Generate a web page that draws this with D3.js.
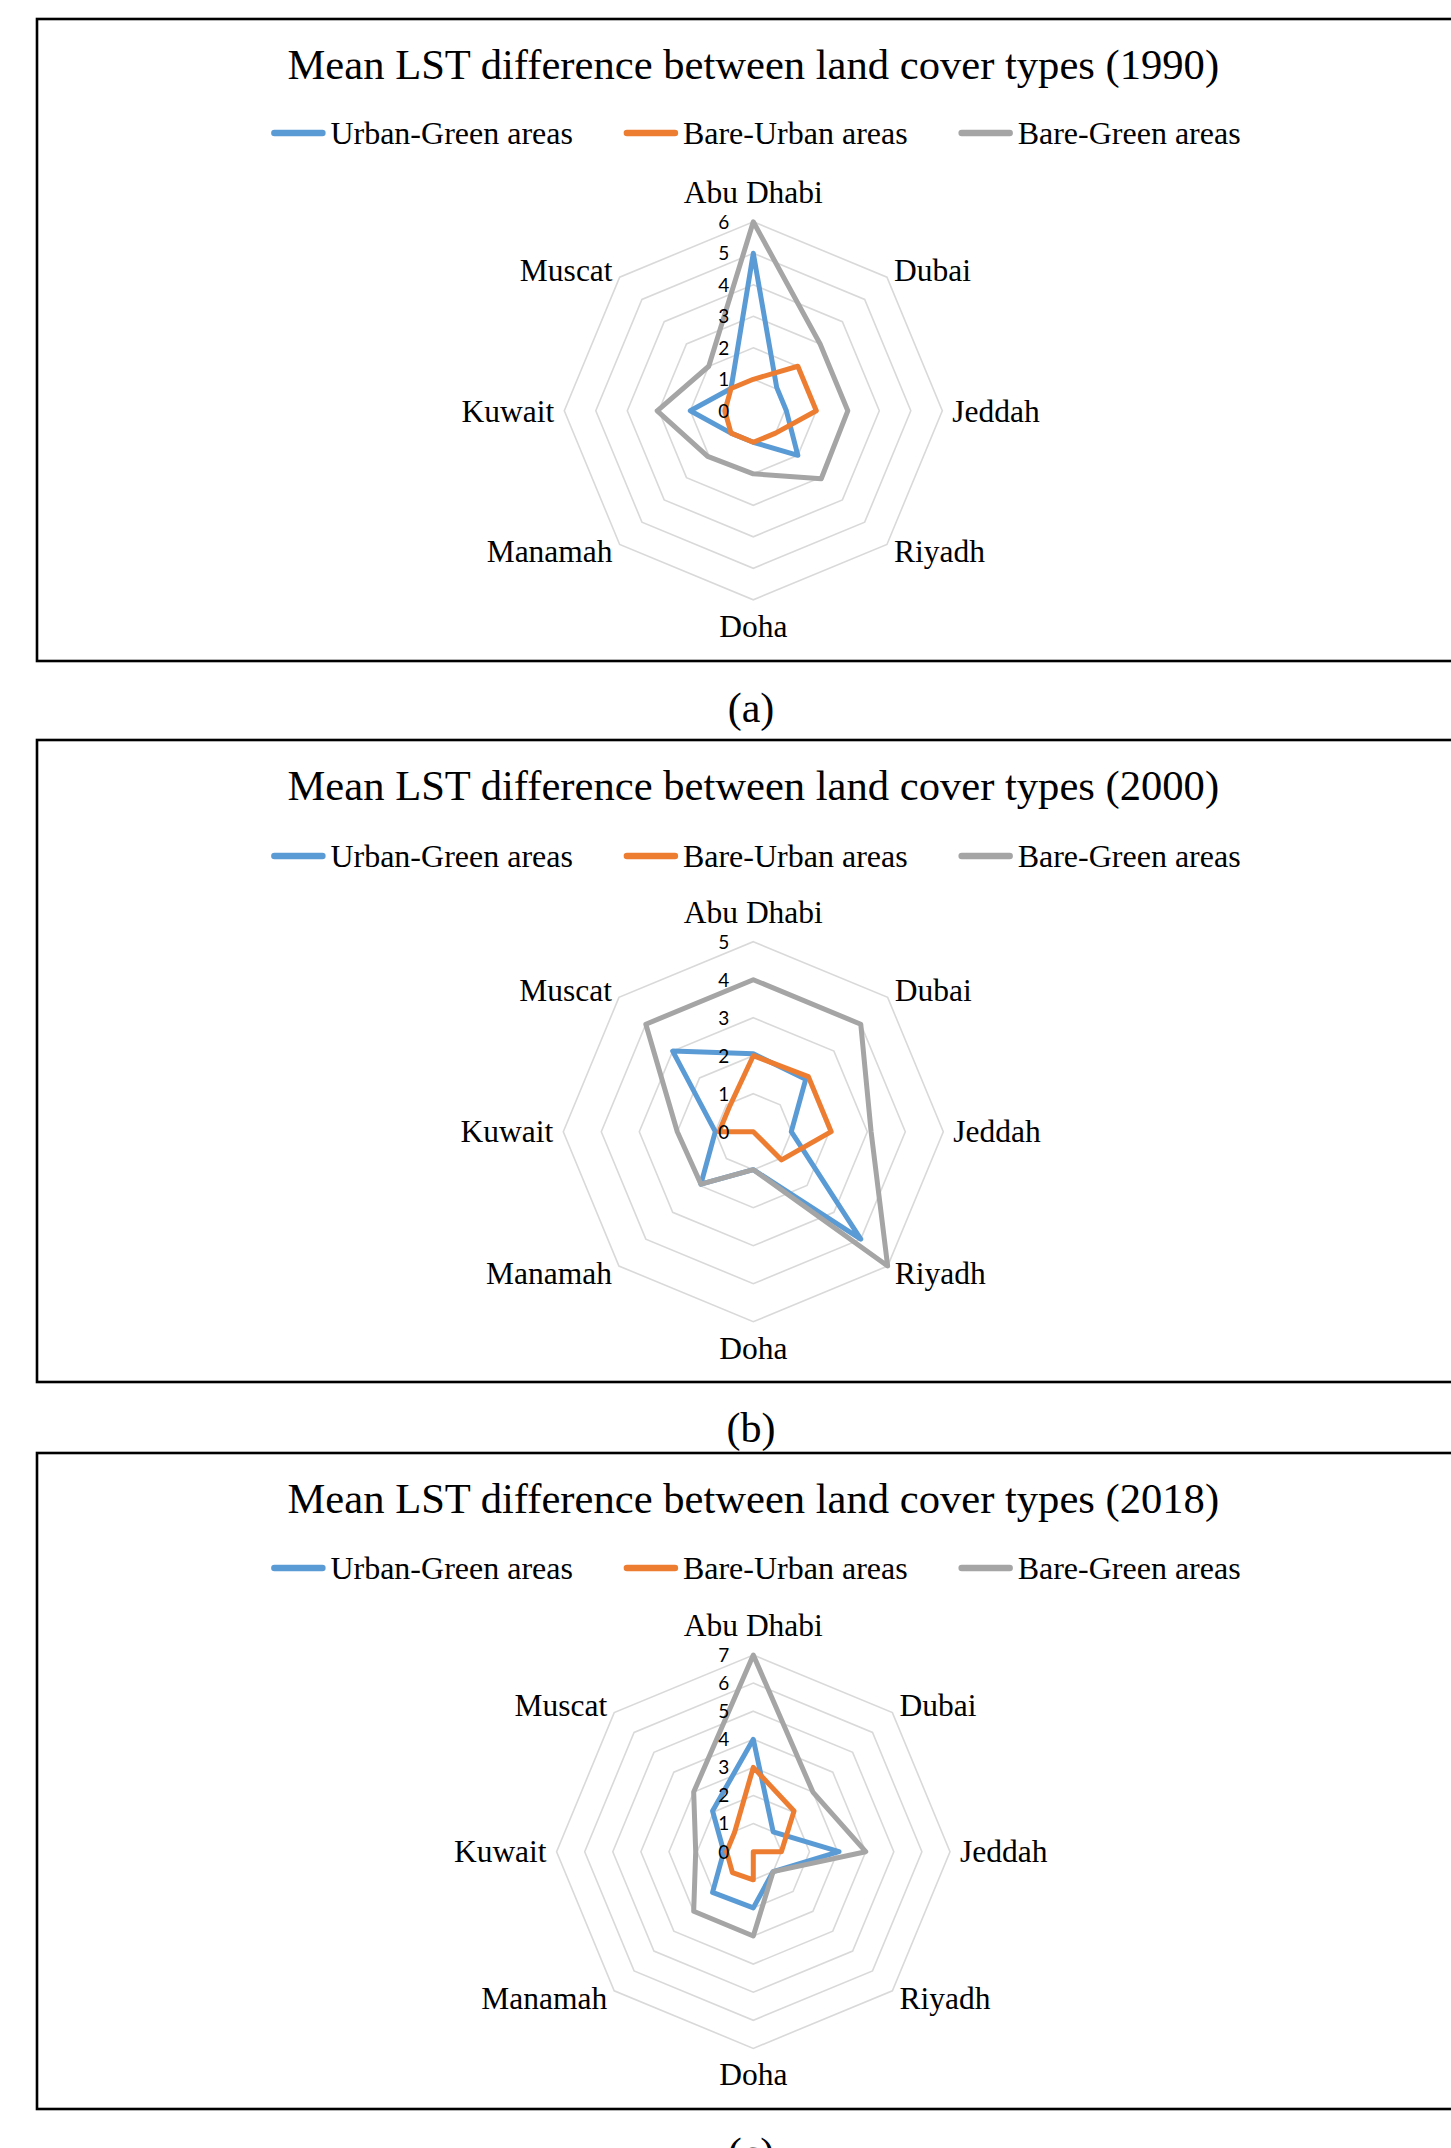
<!DOCTYPE html>
<html>
<head>
<meta charset="utf-8">
<script src="https://cdn.jsdelivr.net/npm/d3@7"></script>
<style>
  body { margin: 0; background: #ffffff; }
  svg { display: block; }
</style>
</head>
<body>
<svg id="fig" width="1451" height="2148"></svg>
<script>
// ---- data ----
const cities = ["Abu Dhabi", "Dubai", "Jeddah", "Riyadh", "Doha", "Manamah", "Kuwait", "Muscat"];
const seriesNames = ["Urban-Green areas", "Bare-Urban areas", "Bare-Green areas"];
const seriesColors = ["#5B9BD5", "#ED7D31", "#A5A5A5"];
const years = ["1990", "2000", "2018"];
const panelTags = ["(a)", "(b)", "(c)"];

// mean LST difference (°C) per city
const urbanGreen1990 = [5.0, 1.05, 1.05, 2.0, 1.0, 1.0, 2.0, 1.0];
const bareUrban1990  = [1.0, 2.0, 2.0, 1.0, 1.0, 1.0, 0.9, 1.0];
const bareGreen1990  = [6.0, 3.0, 3.0, 3.05, 2.0, 2.05, 3.05, 2.0];

const urbanGreen2000 = [2.05, 1.95, 1.0, 4.0, 1.0, 1.95, 1.0, 3.0];
const bareUrban2000  = [2.0, 2.05, 2.05, 1.05, 0, 0, 0.9, 0.9];
const bareGreen2000  = [4.0, 4.0, 3.1, 5.0, 1.0, 1.95, 2.0, 4.0];

const urbanGreen2018 = [4.0, 1.0, 3.05, 1.0, 2.0, 2.05, 1.05, 2.05];
const bareUrban2018  = [3.0, 2.05, 1.0, 0, 1.0, 1.05, 0.95, 0.95];
const bareGreen2018  = [7.0, 3.0, 4.0, 1.0, 3.0, 3.0, 2.05, 3.0];

const axisMax = [6, 5, 7];
const ticks1990 = [0, 1, 2, 3, 4, 5, 6];
const ticks2000 = [0, 1, 2, 3, 4, 5];
const ticks2018 = [0, 1, 2, 3, 4, 5, 6, 7];

const seriesByYear = [
  [urbanGreen1990, bareUrban1990, bareGreen1990],
  [urbanGreen2000, bareUrban2000, bareGreen2000],
  [urbanGreen2018, bareUrban2018, bareGreen2018]
];
const ticksByYear = [ticks1990, ticks2000, ticks2018];

// ---- layout ----
const SERIF = "'Liberation Serif', 'Times New Roman', serif";
const SANS = "Lato, Carlito, Calibri, sans-serif";
const cx = 753.3;
const frames = [
  { top: 19,   bottom: 661,  cy: 410.8,  R: 189,   titleY: 79,   legendY: 133,   tagY: 722 },
  { top: 740,  bottom: 1382, cy: 1131.7, R: 190,   titleY: 800,  legendY: 856,   tagY: 1442 },
  { top: 1453, bottom: 2109, cy: 1851.7, R: 196.7, titleY: 1513, legendY: 1568,  tagY: 2167 }
];

const svg = d3.select("#fig");

const angle = d3.scaleLinear().domain([0, cities.length]).range([0, 2 * Math.PI]);

frames.forEach((f, p) => {
  // panel frame
  svg.append("rect")
    .attr("x", 37).attr("y", f.top)
    .attr("width", 1480).attr("height", f.bottom - f.top)
    .attr("fill", "none").attr("stroke", "#000").attr("stroke-width", 2.6);

  // panel tag below the frame
  svg.append("text")
    .attr("x", 751).attr("y", f.tagY)
    .attr("text-anchor", "middle")
    .attr("font-family", SERIF).attr("font-size", 42)
    .text(panelTags[p]);

  // title
  svg.append("text")
    .attr("x", cx).attr("y", f.titleY)
    .attr("text-anchor", "middle")
    .attr("font-family", SERIF).attr("font-size", 42.6)
    .attr("fill", "#000")
    .text(`Mean LST difference between land cover types (${years[p]})`);

  // legend
  const lg = svg.append("g");
  let x = 0;
  seriesNames.forEach((name, i) => {
    const g = lg.append("g");
    g.append("line")
      .attr("x1", 3).attr("x2", 51).attr("y1", 0).attr("y2", 0)
      .attr("stroke", seriesColors[i]).attr("stroke-width", 6.5)
      .attr("stroke-linecap", "round");
    const t = g.append("text")
      .attr("x", 59).attr("y", 0).attr("dy", "0.33em")
      .attr("font-family", SERIF).attr("font-size", 32)
      .text(name);
    const w = 59 + t.node().getComputedTextLength();
    g.attr("transform", `translate(${x},0)`);
    x += w + 51;
  });
  const total = x - 51;
  lg.attr("transform", `translate(${756 - total / 2},${f.legendY})`);

  // radar
  const r = d3.scaleLinear().domain([0, axisMax[p]]).range([0, f.R]);
  const g = svg.append("g").attr("transform", `translate(${cx},${f.cy})`);

  const ring = d3.lineRadial()
    .angle((d, i) => angle(i))
    .radius(d => r(d))
    .curve(d3.curveLinearClosed);

  ticksByYear[p].filter(v => v > 0).forEach(v => {
    g.append("path")
      .attr("d", ring(cities.map(() => v)))
      .attr("fill", "none").attr("stroke", "#d9d9d9").attr("stroke-width", 1.6);
  });

  // series polygons
  seriesByYear[p].forEach((vals, i) => {
    g.append("path")
      .attr("d", ring(vals))
      .attr("fill", "none")
      .attr("stroke", seriesColors[i])
      .attr("stroke-width", 5)
      .attr("stroke-linejoin", "round");
  });

  // radial tick labels
  ticksByYear[p].forEach(v => {
    g.append("text")
      .attr("x", -24).attr("y", -r(v))
      .attr("dy", "0.36em")
      .attr("text-anchor", "end")
      .attr("font-family", SANS).attr("font-size", 19)
      .attr("fill", "#000")
      .text(v);
  });

  // category labels
  cities.forEach((c, i) => {
    const a = angle(i);
    const sx = Math.sin(a), sy = -Math.cos(a);
    const R0 = f.R;
    const lx = (R0 + 10) * sx, ly = (R0 + 10) * sy;
    const anchor = Math.abs(sx) < 0.01 ? "middle" : (sx > 0 ? "start" : "end");
    const t = g.append("text")
      .attr("text-anchor", anchor)
      .attr("font-family", SERIF).attr("font-size", 31.5)
      .attr("fill", "#000")
      .text(c);
    if (anchor === "middle") {
      if (sy < 0) t.attr("x", 0).attr("y", -R0 - 19);
      else t.attr("x", 0).attr("y", R0 + 37);
    } else {
      t.attr("x", lx).attr("y", ly).attr("dy", "0.34em");
    }
  });
});
</script>
</body>
</html>
